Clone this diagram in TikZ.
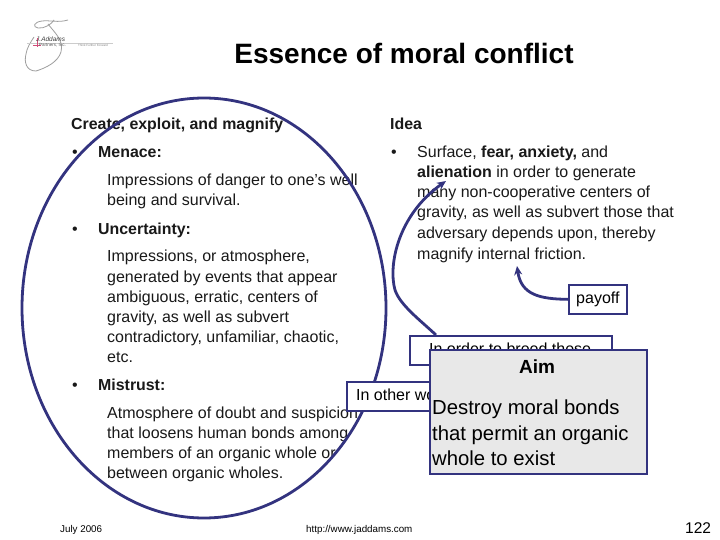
\documentclass[tikz,border=0pt]{standalone}
\usepackage{fontspec}
\setmainfont{Liberation Sans}
\usetikzlibrary{arrows.meta}
\definecolor{navy}{RGB}{51,51,127}
\definecolor{aimgray}{RGB}{232,232,232}
\tikzset{x=1pt,y=-1pt,
 body/.style={anchor=base west,inner sep=0pt,font=\fontsize{16}{20}\selectfont,text=black!90},
 head/.style={body,font=\fontsize{15.9}{20}\selectfont\bfseries},
 foot/.style={anchor=base west,inner sep=0pt,font=\fontsize{9.8}{11}\selectfont},
 navyline/.style={draw=navy,line width=2.8pt},
 callout/.style={draw=navy,line width=1.7pt,fill=white,inner sep=0pt,anchor=north west},
}
\begin{document}
\begin{tikzpicture}
\useasboundingbox (0,0) rectangle (720,540);
\fill[white] (0,0) rectangle (720,540);
% logo
\draw[gray!75,line width=0.8pt] (68,20) .. controls (58,23) and (50,20) .. (42,21) .. controls (34,22) and (32,27) .. (38,28) .. controls (44,29) and (52,24) .. (54,20);
\draw[gray!75,line width=0.8pt] (48,24) .. controls (54,32) and (64,40) .. (61,52) .. controls (58,62) and (46,68) .. (36,71) .. controls (26,71) and (24,62) .. (26,54) .. controls (27,48) and (30,43) .. (34,37);
\draw[gray!40,line width=0.4pt] (27,43) -- (113,43);
\draw[purple!70,line width=0.5pt] (37,38) -- (37,47) (33,45) -- (41,45);
\node[anchor=base west,inner sep=0pt,font=\fontsize{6.5}{7}\selectfont\itshape,text=black!75] (logoa) at (36,42) {J.Addams};
\node[anchor=base west,inner sep=0pt,font=\fontsize{4.5}{5}\selectfont,text=black!65] (logob) at (39,47) {Partners, Inc.};
\node[anchor=base west,inner sep=0pt,font=\fontsize{3}{3}\selectfont,text=gray] (logoc) at (78,47) {Think Further Forward};
\node[anchor=base,inner sep=0pt,font=\fontsize{28}{32}\selectfont\bfseries] (title) at (404,64) {Essence of moral conflict};
\node[head] (h1) at (71,130) {Create, exploit, and magnify};
\node[head] (h2) at (390,130) {Idea};
\node[body] (b1) at (72,158) {•};
\node[head] (m) at (98,158) {Menace:};
\node[body] (b2) at (391,158) {•};
\node[body] (i1) at (417,158) {Surface, \textbf{fear, anxiety,} and};
\node[body] (i2) at (417,178) {\textbf{alienation} in order to generate};
\node[body] (i3) at (417,198) {many non-cooperative centers of};
\node[body] (i4) at (417,218) {gravity, as well as subvert those that};
\node[body] (i5) at (417,238) {adversary depends upon, thereby};
\node[body] (i6) at (417,259) {magnify internal friction.};
\node[body] (t1) at (107,186) {Impressions of danger to one’s well};
\node[body] (t2) at (107,206) {being and survival.};
\node[body] (b3) at (72,234) {•};
\node[head] (u) at (98,234) {Uncertainty:};
\node[body] (t3) at (107,261) {Impressions, or atmosphere,};
\node[body] (t4) at (107,282) {generated by events that appear};
\node[body] (t5) at (107,302) {ambiguous, erratic, centers of};
\node[body] (t6) at (107,322) {gravity, as well as subvert};
\node[body] (t7) at (107,342) {contradictory, unfamiliar, chaotic,};
\node[body] (t8) at (107,362) {etc.};
\node[body] (b4) at (72,390) {•};
\node[head] (mi) at (98,390) {Mistrust:};
\node[body] (t9) at (107,418) {Atmosphere of doubt and suspicion};
\node[body] (t10) at (107,438) {that loosens human bonds among};
\node[body] (t11) at (107,458) {members of an organic whole or};
\node[body] (t12) at (107,478) {between organic wholes.};
% ellipse
\draw[navyline] (204,308) ellipse [x radius=182,y radius=210];
% payoff
\node[callout,minimum width=58pt,minimum height=29pt] (payoff) at (568,284) {\fontsize{16}{18}\selectfont payoff};
\coordinate (payofftip) at (517,266);
\draw[navyline,-{Stealth[length=9pt,width=8pt]}] (payoff.west) .. controls (540,299) and (521,295) .. (payofftip);
% order box
\node[callout,minimum width=202pt,minimum height=29pt] (order) at (409,335) {};
\coordinate (ordertip) at (446,181);
\draw[navyline,-{Stealth[length=9pt,width=8pt]}] (order.north west) ++(27,0) .. controls (420,320) and (400,305) .. (395,290) .. controls (388,265) and (398,215) .. (ordertip);
\node[anchor=base west,inner sep=0pt,font=\fontsize{16}{18}\selectfont] (ordertext) at (429,354) {In order to breed these};
% other words box
\node[callout,minimum width=110pt,minimum height=29pt] (other) at (346,381) {};
\node[anchor=base west,inner sep=0pt,font=\fontsize{16}{18}\selectfont] (othertext) at (356,400) {In other words};
% aim box
\node[draw=navy,line width=1.7pt,fill=aimgray,inner sep=0pt,anchor=north west,minimum width=217pt,minimum height=124pt] (aim) at (429,349) {};
\node[anchor=base,inner sep=0pt,font=\fontsize{19}{20}\selectfont\bfseries] (aimt) at (537,373) {Aim};
\node[anchor=base west,inner sep=0pt,font=\fontsize{20.3}{26}\selectfont] (a1) at (432,414) {Destroy moral bonds};
\node[anchor=base west,inner sep=0pt,font=\fontsize{20.3}{26}\selectfont] (a2) at (432,440) {that permit an organic};
\node[anchor=base west,inner sep=0pt,font=\fontsize{20.3}{26}\selectfont] (a3) at (432,465) {whole to exist};
% footer
\node[foot] (f1) at (60,532) {July 2006};
\node[foot] (f2) at (306,532) {http://www.jaddams.com};
\node[anchor=base west,inner sep=0pt,font=\fontsize{15.5}{18}\selectfont] (pg) at (685,533) {122};
\end{tikzpicture}
\end{document}
